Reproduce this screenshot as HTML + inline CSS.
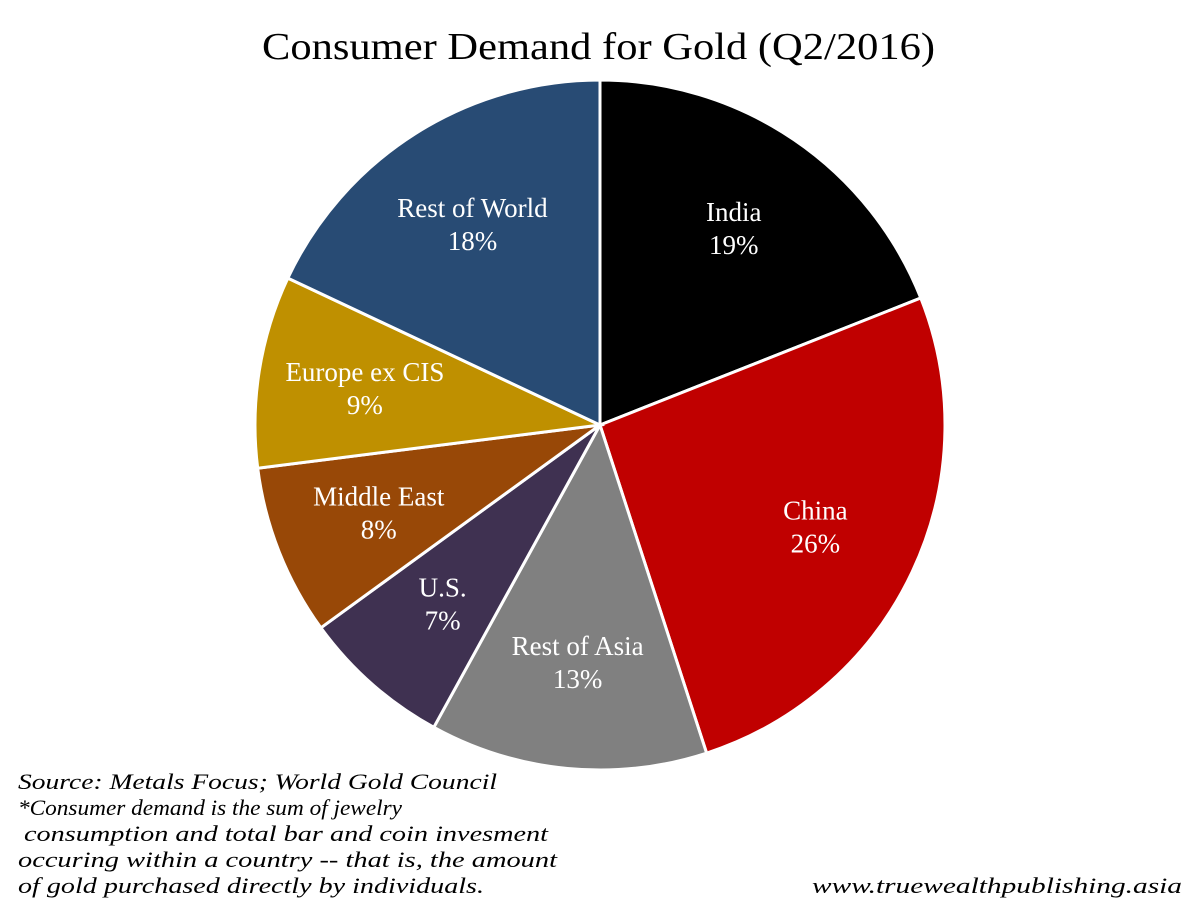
<!DOCTYPE html>
<html><head><meta charset="utf-8"><style>
body{margin:0;background:#fff;width:1200px;height:924px;overflow:hidden}
svg{display:block}
</style></head><body>
<svg width="1200" height="924">
<text x="262" y="59" textLength="673" lengthAdjust="spacingAndGlyphs" font-family="Liberation Serif, serif" font-size="38" fill="#000">Consumer Demand for Gold (Q2/2016)</text>
<g id="pie"></g>
<g font-family="Liberation Serif, serif" font-style="italic" font-size="22" fill="#000" lengthAdjust="spacingAndGlyphs">
<text x="18" y="789" textLength="479" lengthAdjust="spacingAndGlyphs">Source: Metals Focus; World Gold Council</text>
<text x="18" y="815" textLength="384" lengthAdjust="spacingAndGlyphs">*Consumer demand is the sum of jewelry</text>
<text x="24" y="841" textLength="524" lengthAdjust="spacingAndGlyphs">consumption and total bar and coin invesment</text>
<text x="18" y="867" textLength="539" lengthAdjust="spacingAndGlyphs">occuring within a country -- that is, the amount</text>
<text x="18" y="893" textLength="466" lengthAdjust="spacingAndGlyphs">of gold purchased directly by individuals.</text>
</g>
<text x="812" y="893" textLength="370" lengthAdjust="spacingAndGlyphs" font-family="Liberation Serif, serif" font-style="italic" font-size="22">www.truewealthpublishing.asia</text>
</svg>
<script>
const categories=["India","China","Rest of Asia","U.S.","Middle East","Europe ex CIS","Rest of World"];
const values=[19,26,13,7,8,9,18];
const colors=["#000000","#c00000","#808080","#3f3151","#984807","#bf9000","#284b74"];
const cx=600,cy=425,r=345,NS="http://www.w3.org/2000/svg";
const g=document.getElementById('pie');
const total=values.reduce((a,b)=>a+b,0);
let acc=0;
function pt(a,rr){return [cx+rr*Math.sin(a),cy-rr*Math.cos(a)];}
values.forEach((v,i)=>{
 const a0=acc/total*2*Math.PI;acc+=v;const a1=acc/total*2*Math.PI;
 const p0=pt(a0,r),p1=pt(a1,r);
 const p=document.createElementNS(NS,'path');
 p.setAttribute('d',`M${cx},${cy}L${p0[0]},${p0[1]}A${r},${r} 0 ${a1-a0>Math.PI?1:0} 1 ${p1[0]},${p1[1]}Z`);
 p.setAttribute('fill',colors[i]);p.setAttribute('stroke','#fff');p.setAttribute('stroke-width','3');
 
 
 g.appendChild(p);
 const m=pt((a0+a1)/2,238);
 const t=document.createElementNS(NS,'text');
 t.setAttribute('text-anchor','middle');t.setAttribute('fill','#fff');
 t.setAttribute('font-family','Liberation Serif, serif');t.setAttribute('font-size','27');
 
 
 const s1=document.createElementNS(NS,'tspan');s1.setAttribute('x',m[0]);s1.setAttribute('y',m[1]-7);s1.textContent=categories[i];
 const s2=document.createElementNS(NS,'tspan');s2.setAttribute('x',m[0]);s2.setAttribute('y',m[1]+26);s2.textContent=v+'%';
 t.appendChild(s1);t.appendChild(s2);g.appendChild(t);
});
</script>
</body></html>
